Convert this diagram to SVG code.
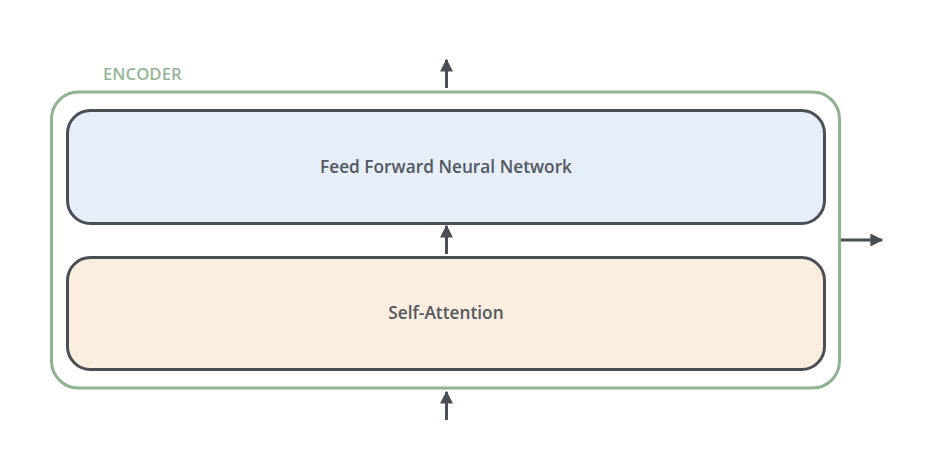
<svg xmlns="http://www.w3.org/2000/svg" width="946" height="463" viewBox="0 0 946 463">
  <defs>
    <marker id="arrow" viewBox="0 0 10 10" refX="9" refY="5" markerWidth="4.3" markerHeight="4.3" orient="auto" markerUnits="strokeWidth">
      <path d="M0,0 L10,5 L0,10 z" fill="#4a4e55"/>
    </marker>
    <style>
      .encoder { fill: none; stroke: #8fb38f; stroke-width: 3; }
      .layer { stroke: #4a4e55; stroke-width: 3; }
      .label { font-family: "Open Sans", "Liberation Sans", sans-serif; font-size: 17.3px; font-weight: 600; fill: #53585f; text-anchor: middle; }
      .title { font-family: "Open Sans", "Liberation Sans", sans-serif; font-size: 16.8px; font-weight: 600; fill: #95b695; }
      .conn { stroke: #4a4e55; stroke-width: 3; fill: none; marker-end: url(#arrow); }
    </style>
  </defs>
  <rect width="946" height="463" fill="#ffffff"/>

  <g id="encoder">
    <rect class="encoder" x="51.5" y="92" width="788" height="296" rx="27"/>
    <text class="title" x="103" y="80">ENCODER</text>
  </g>

  <g id="ffnn">
    <rect class="layer" x="67.5" y="110.5" width="757" height="113" rx="23" fill="#e5eef9"/>
    <text class="label" x="446" y="173">Feed Forward Neural Network</text>
  </g>

  <g id="self-attention">
    <rect class="layer" x="67.5" y="257.5" width="757" height="112" rx="23" fill="#fbeedf"/>
    <text class="label" x="446" y="319">Self-Attention</text>
  </g>

  <g id="connectors">
    <line class="conn" x1="446.5" y1="420" x2="446.5" y2="392"/>
    <line class="conn" x1="446.5" y1="254" x2="446.5" y2="226"/>
    <line class="conn" x1="446.5" y1="88" x2="446.5" y2="60"/>
    <line class="conn" x1="841" y1="240" x2="882" y2="240"/>
  </g>
</svg>
